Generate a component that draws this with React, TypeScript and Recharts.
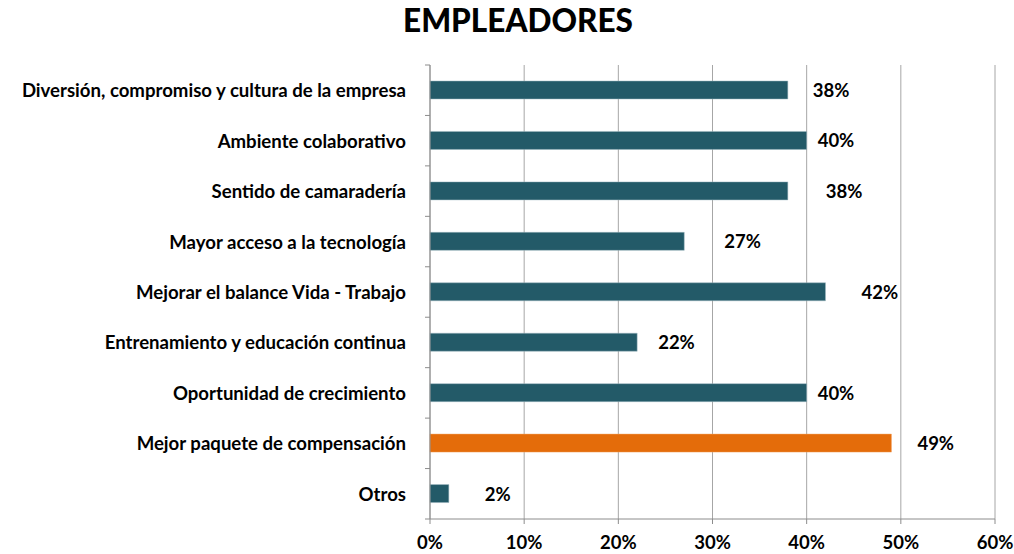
import { BarChart, Bar, XAxis, YAxis, CartesianGrid, Cell, LabelList } from "recharts";

const categories = [
  "Diversión, compromiso y cultura de la empresa",
  "Ambiente colaborativo",
  "Sentido de camaradería",
  "Mayor acceso a la tecnología",
  "Mejorar el balance Vida - Trabajo",
  "Entrenamiento y educación continua",
  "Oportunidad de crecimiento",
  "Mejor paquete de compensación",
  "Otros",
];
const values = [0.38, 0.4, 0.38, 0.27, 0.42, 0.22, 0.4, 0.49, 0.02];
const highlighted = [false, false, false, false, false, false, false, true, false];
const xTicks = [0, 0.1, 0.2, 0.3, 0.4, 0.5, 0.6];
// extra space between a bar's end and its label (the labels were nudged by hand)
const labelGap = [25, 11, 38, 40, 36, 21, 11, 26, 36];

const data = categories.map((name, i) => ({
  name,
  value: values[i],
  hi: highlighted[i],
  gap: labelGap[i],
}));

const TEAL = "#235A68";
const ORANGE = "#E46C0A";
const AXIS = "#8C8C8C";
const FONT = "Lato, 'Open Sans', sans-serif";
const BAND = (519 - 65) / categories.length;

const pct = (v: number) => `${Math.round(v * 100)}%`;

function CategoryTick(props: any) {
  const { x, y, payload, index } = props;
  const last = index === categories.length - 1;
  return (
    <g>
      <line x1={x - 5} x2={x} y1={y - BAND / 2} y2={y - BAND / 2} stroke={AXIS} />
      {last && <line x1={x - 5} x2={x} y1={y + BAND / 2} y2={y + BAND / 2} stroke={AXIS} />}
      <text
        x={x - 24}
        y={y}
        textAnchor="end"
        dominantBaseline="central"
        fontFamily={FONT}
        fontWeight={700}
        fontSize={18.6}
        fill="#000"
      >
        {payload.value}
      </text>
    </g>
  );
}

function ValueLabel(props: any) {
  const { x, y, width, height, value, index } = props;
  return (
    <text
      x={x + width + data[index].gap}
      y={y + height / 2}
      dominantBaseline="central"
      fontFamily={FONT}
      fontWeight={700}
      fontSize={18.5}
      fill="#000"
    >
      {pct(value)}
    </text>
  );
}

export default function App() {
  return (
    <div style={{ width: 1014, height: 554, position: "relative", background: "#fff" }}>
      <style>{`body{margin:0}`}</style>
      <div
        style={{
          position: "absolute",
          top: 1,
          left: 0,
          width: 1036,
          textAlign: "center",
          fontFamily: FONT,
          fontWeight: 900,
          fontSize: 31.5,
          color: "#000",
        }}
      >
        EMPLEADORES
      </div>
      <BarChart
        width={1014}
        height={554}
        data={data}
        layout="vertical"
        margin={{ top: 65, right: 19, bottom: 0, left: 0 }}
        barCategoryGap={16}
      >
        <CartesianGrid horizontal={false} vertical stroke="#A6A6A6" strokeWidth={1} />
        <XAxis
          type="number"
          domain={[0, 0.6]}
          ticks={xTicks}
          tickFormatter={pct}
          axisLine={{ stroke: AXIS }}
          tickLine={{ stroke: AXIS }}
          tickSize={5}
          height={35}
          interval={0}
          tick={{ fontFamily: FONT, fontWeight: 700, fontSize: 18.5, fill: "#000", dy: 10 }}
        />
        <YAxis
          type="category"
          dataKey="name"
          width={430}
          axisLine={{ stroke: AXIS }}
          tickLine={false}
          tickSize={0}
          tickMargin={0}
          interval={0}
          tick={<CategoryTick />}
        />
        <Bar dataKey="value" isAnimationActive={false} barSize={18} stroke="#9FB8C0" strokeWidth={0.5}>
          {data.map((d, i) => (
            <Cell key={i} fill={d.hi ? ORANGE : TEAL} stroke={d.hi ? "#F0A060" : "#9FB8C0"} />
          ))}
          <LabelList dataKey="value" content={<ValueLabel />} />
        </Bar>
      </BarChart>
    </div>
  );
}
